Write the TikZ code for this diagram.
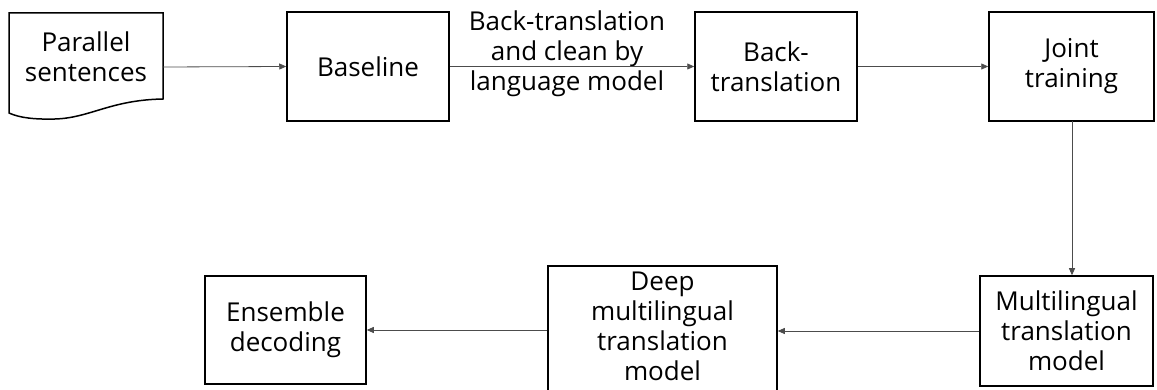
\documentclass[tikz,border=0pt]{standalone}
\usepackage{fontspec}
\setmainfont{Open Sans}
\usetikzlibrary{arrows.meta}
\begin{document}
\begin{tikzpicture}[x=1pt,y=-1pt,
  box/.style={draw=black,line width=1.5pt,inner sep=0pt,align=center,font=\fontsize{26}{30}\selectfont},
  txt/.style={align=center,font=\fontsize{26}{30}\selectfont,inner sep=0pt},
  conn/.style={draw=black!70,line width=0.8pt,-{Triangle[length=7pt,width=6pt]}}]
\useasboundingbox (0,0) rectangle (1157,390);
% document shape
\draw[line width=1.5pt,line join=miter] (9,13) -- (163,13) -- (163,99)
  .. controls (110,100) and (90,118) .. (55,119)
  .. controls (35,119.5) and (20,118) .. (9,113) -- cycle;
\node[txt] (par) at (86,57) {Parallel\\sentences};
\coordinate (parR) at (163,67);
\node[box,minimum width=162pt,minimum height=109pt] (base) at (368,66.5) {Baseline};
\node[box,minimum width=162pt,minimum height=109pt] (bt) at (776,66.5) {Back-\\translation};
\node[box,minimum width=165pt,minimum height=109pt] (jt) at (1071.5,66.5) {Joint\\training};
\node[box,minimum width=173pt,minimum height=110pt] (ml) at (1066.5,331) {Multilingual\\translation\\model};
\node[box,minimum width=229pt,minimum height=136pt] (deep) at (662.5,334) {};
\node[txt] at (662.5,326) {Deep\\multilingual\\translation\\model};
\node[box,minimum width=161pt,minimum height=108pt] (ens) at (285.5,330) {Ensemble\\decoding};
\node[txt] (lab) at (567,54) {Back-translation\\and clean by\\language model};
\coordinate (down) at (1072,121);
\draw[conn] (parR) -- (base.west);
\draw[conn] (base.east) -- (bt.west);
\draw[conn] (bt.east) -- (jt.west);
\draw[conn] (down) -- (down |- ml.north);
\draw[conn] (ml.west) -- (deep.east |- ml.west);
\draw[conn] (deep.west |- ens.east) -- (ens.east);
\end{tikzpicture}
\end{document}
